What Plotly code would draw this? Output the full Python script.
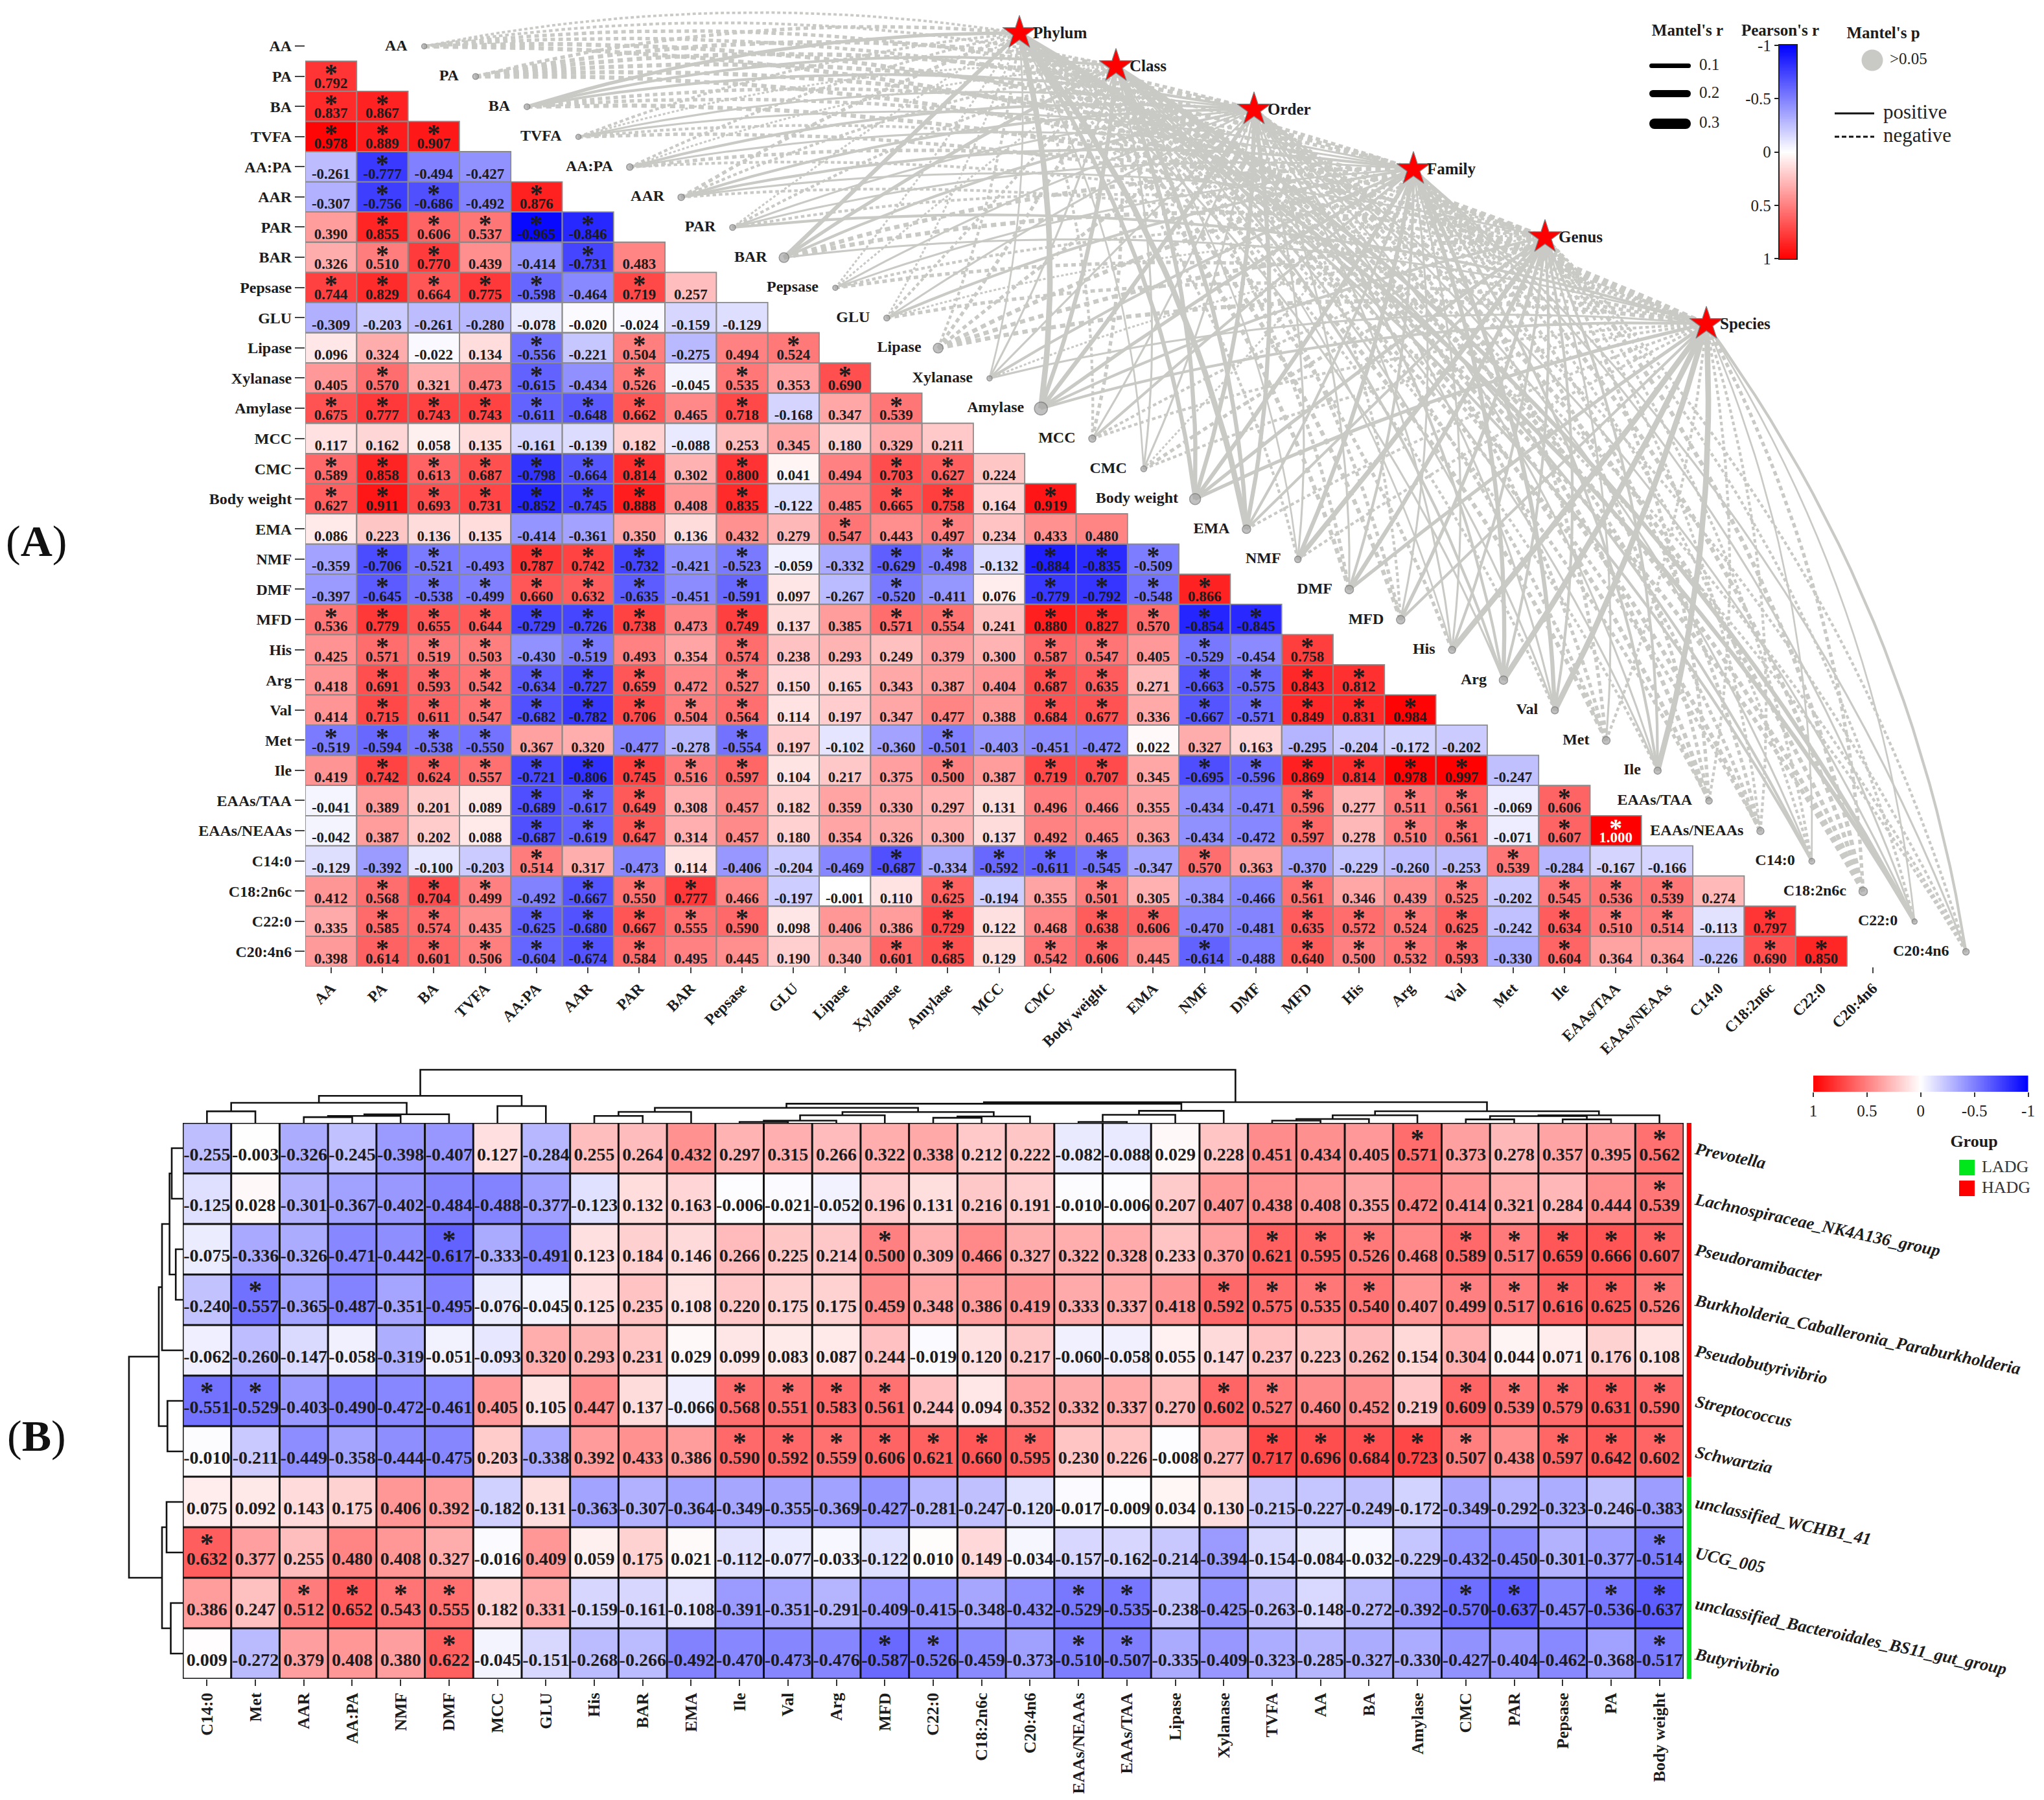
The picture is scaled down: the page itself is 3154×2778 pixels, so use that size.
import plotly.graph_objects as go

W, H = 3154, 2778
SERIF = "Liberation Serif"
GREY = "#c9c9c5"
INK = "#1c1c1c"

# ---------- Panel A: Pearson matrix, lower triangle ----------
a_labels = ["AA","PA","BA","TVFA","AA:PA","AAR","PAR","BAR","Pepsase","GLU","Lipase","Xylanase","Amylase","MCC","CMC",
            "Body weight","EMA","NMF","DMF","MFD","His","Arg","Val","Met","Ile","EAAs/TAA","EAAs/NEAAs","C14:0",
            "C18:2n6c","C22:0","C20:4n6"]
r_PA = [0.792]
r_BA = [0.837,0.867]
r_TVFA = [0.978,0.889,0.907]
r_AAPA = [-0.261,-0.777,-0.494,-0.427]
r_AAR = [-0.307,-0.756,-0.686,-0.492,0.876]
r_PAR = [0.390,0.855,0.606,0.537,-0.965,-0.846]
r_BAR = [0.326,0.510,0.770,0.439,-0.414,-0.731,0.483]
r_Pepsase = [0.744,0.829,0.664,0.775,-0.598,-0.464,0.719,0.257]
r_GLU = [-0.309,-0.203,-0.261,-0.280,-0.078,-0.020,-0.024,-0.159,-0.129]
r_Lipase = [0.096,0.324,-0.022,0.134,-0.556,-0.221,0.504,-0.275,0.494,0.524]
r_Xylanase = [0.405,0.570,0.321,0.473,-0.615,-0.434,0.526,-0.045,0.535,0.353,0.690]
r_Amylase = [0.675,0.777,0.743,0.743,-0.611,-0.648,0.662,0.465,0.718,-0.168,0.347,0.539]
r_MCC = [0.117,0.162,0.058,0.135,-0.161,-0.139,0.182,-0.088,0.253,0.345,0.180,0.329,0.211]
r_CMC = [0.589,0.858,0.613,0.687,-0.798,-0.664,0.814,0.302,0.800,0.041,0.494,0.703,0.627,0.224]
r_BW = [0.627,0.911,0.693,0.731,-0.852,-0.745,0.888,0.408,0.835,-0.122,0.485,0.665,0.758,0.164,0.919]
r_EMA = [0.086,0.223,0.136,0.135,-0.414,-0.361,0.350,0.136,0.432,0.279,0.547,0.443,0.497,0.234,0.433,0.480]
r_NMF = [-0.359,-0.706,-0.521,-0.493,0.787,0.742,-0.732,-0.421,-0.523,-0.059,-0.332,-0.629,-0.498,-0.132,-0.884,-0.835,-0.509]
r_DMF = [-0.397,-0.645,-0.538,-0.499,0.660,0.632,-0.635,-0.451,-0.591,0.097,-0.267,-0.520,-0.411,0.076,-0.779,-0.792,-0.548,0.866]
r_MFD = [0.536,0.779,0.655,0.644,-0.729,-0.726,0.738,0.473,0.749,0.137,0.385,0.571,0.554,0.241,0.880,0.827,0.570,-0.854,-0.845]
r_His = [0.425,0.571,0.519,0.503,-0.430,-0.519,0.493,0.354,0.574,0.238,0.293,0.249,0.379,0.300,0.587,0.547,0.405,-0.529,-0.454,0.758]
r_Arg = [0.418,0.691,0.593,0.542,-0.634,-0.727,0.659,0.472,0.527,0.150,0.165,0.343,0.387,0.404,0.687,0.635,0.271,-0.663,-0.575,0.843,0.812]
r_Val = [0.414,0.715,0.611,0.547,-0.682,-0.782,0.706,0.504,0.564,0.114,0.197,0.347,0.477,0.388,0.684,0.677,0.336,-0.667,-0.571,0.849,0.831,0.984]
r_Met = [-0.519,-0.594,-0.538,-0.550,0.367,0.320,-0.477,-0.278,-0.554,0.197,-0.102,-0.360,-0.501,-0.403,-0.451,-0.472,0.022,0.327,0.163,-0.295,-0.204,-0.172,-0.202]
r_Ile = [0.419,0.742,0.624,0.557,-0.721,-0.806,0.745,0.516,0.597,0.104,0.217,0.375,0.500,0.387,0.719,0.707,0.345,-0.695,-0.596,0.869,0.814,0.978,0.997,-0.247]
r_TAA = [-0.041,0.389,0.201,0.089,-0.689,-0.617,0.649,0.308,0.457,0.182,0.359,0.330,0.297,0.131,0.496,0.466,0.355,-0.434,-0.471,0.596,0.277,0.511,0.561,-0.069,0.606]
r_NEAA = [-0.042,0.387,0.202,0.088,-0.687,-0.619,0.647,0.314,0.457,0.180,0.354,0.326,0.300,0.137,0.492,0.465,0.363,-0.434,-0.472,0.597,0.278,0.510,0.561,-0.071,0.607,1.000]
r_C14 = [-0.129,-0.392,-0.100,-0.203,0.514,0.317,-0.473,0.114,-0.406,-0.204,-0.469,-0.687,-0.334,-0.592,-0.611,-0.545,-0.347,0.570,0.363,-0.370,-0.229,-0.260,-0.253,0.539,-0.284,-0.167,-0.166]
r_C18 = [0.412,0.568,0.704,0.499,-0.492,-0.667,0.550,0.777,0.466,-0.197,-0.001,0.110,0.625,-0.194,0.355,0.501,0.305,-0.384,-0.466,0.561,0.346,0.439,0.525,-0.202,0.545,0.536,0.539,0.274]
r_C22 = [0.335,0.585,0.574,0.435,-0.625,-0.680,0.667,0.555,0.590,0.098,0.406,0.386,0.729,0.122,0.468,0.638,0.606,-0.470,-0.481,0.635,0.572,0.524,0.625,-0.242,0.634,0.510,0.514,-0.113,0.797]
r_C20 = [0.398,0.614,0.601,0.506,-0.604,-0.674,0.584,0.495,0.445,0.190,0.340,0.601,0.685,0.129,0.542,0.606,0.445,-0.614,-0.488,0.640,0.500,0.532,0.593,-0.330,0.604,0.364,0.364,-0.226,0.690,0.850]
a_rows = [[], r_PA, r_BA, r_TVFA, r_AAPA, r_AAR, r_PAR, r_BAR, r_Pepsase, r_GLU, r_Lipase, r_Xylanase, r_Amylase, r_MCC,
          r_CMC, r_BW, r_EMA, r_NMF, r_DMF, r_MFD, r_His, r_Arg, r_Val, r_Met, r_Ile, r_TAA, r_NEAA, r_C14, r_C18, r_C22, r_C20]

# ---------- Mantel links: signed estimate per taxon level (negative = dashed) ----------
taxa = ["Phylum","Class","Order","Family","Genus","Species"]
star_x = [1573,1722,1935,2181,2384,2633]
star_y = [51,102,169,261,366,500]
m_AA = [-.08,-.1,-.15,-.15,-.2,-.2]
m_PA = [-.15,-.2,-.2,-.2,-.2,-.2]
m_BA = [.15,.1,.1,-.15,-.15,-.2]
m_TVFA = [-.1,-.05,.05,.05,-.1,-.15]
m_AAPA = [-.1,-.05,.1,.05,-.15,-.1]
m_AAR = [-.15,-.1,.1,.1,.05,-.1]
m_PAR = [-.05,-.1,.05,.05,-.1,.1]
m_BAR = [.2,.15,.1,-.2,-.2,.05]
m_Pepsase = [-.05,-.05,.05,.05,-.1,-.15]
m_GLU = [-.05,-.1,.05,.1,-.05,-.15]
m_Lipase = [-.1,-.15,-.15,-.2,-.2,-.2]
m_Xylanase = [.03,.05,.05,.1,-.05,.05]
m_Amylase = [.3,.2,.2,.15,.1,.1]
m_MCC = [-.1,-.15,.05,.1,-.1,-.1]
m_CMC = [.03,.05,.05,-.05,-.15,-.1]
m_BW = [.2,.2,.2,.2,.15,.15]
m_EMA = [.3,.2,.2,.1,.1,-.1]
m_NMF = [-.1,.03,.05,.2,.25,-.1]
m_DMF = [-.2,-.15,.05,.1,.2,.15]
m_MFD = [-.2,-.15,-.1,.05,.15,.1]
m_His = [-.15,.03,.05,.05,.1,.3]
m_Arg = [.05,.1,.1,.2,.1,.3]
m_Val = [-.1,.05,.05,.2,.1,.3]
m_Met = [-.2,-.15,-.15,-.15,.05,-.1]
m_Ile = [-.1,.05,.05,.1,.1,.3]
m_TAA = [-.15,-.2,-.2,-.15,-.15,-.1]
m_NEAA = [-.15,-.2,-.15,-.15,-.1,-.1]
m_C14 = [.1,.1,.05,-.1,-.1,.03]
m_C18 = [-.2,-.2,-.2,-.2,-.2,-.15]
m_C22 = [.2,.2,.05,.05,-.1,.03]
m_C20 = [-.1,-.1,-.1,.05,-.1,.1]
mantel = [m_AA,m_PA,m_BA,m_TVFA,m_AAPA,m_AAR,m_PAR,m_BAR,m_Pepsase,m_GLU,m_Lipase,m_Xylanase,m_Amylase,m_MCC,m_CMC,m_BW,
          m_EMA,m_NMF,m_DMF,m_MFD,m_His,m_Arg,m_Val,m_Met,m_Ile,m_TAA,m_NEAA,m_C14,m_C18,m_C22,m_C20]
node_size = [8,9,9,8,10,10,9,15,8,9,15,8,20,11,9,17,13,10,13,13,11,13,11,12,11,10,11,9,13,8,10]

# ---------- Panel B ----------
b_cols = ["C14:0","Met","AAR","AA:PA","NMF","DMF","MCC","GLU","His","BAR","EMA","Ile","Val","Arg","MFD","C22:0","C18:2n6c",
          "C20:4n6","EAAs/NEAAs","EAAs/TAA","Lipase","Xylanase","TVFA","AA","BA","Amylase","CMC","PAR","Pepsase","PA","Body weight"]
b_rows_names = ["Prevotella","Lachnospiraceae_NK4A136_group","Pseudoramibacter","Burkholderia_Caballeronia_Paraburkholderia",
                "Pseudobutyrivibrio","Streptococcus","Schwartzia","unclassified_WCHB1_41","UCG_005",
                "unclassified_Bacteroidales_BS11_gut_group","Butyrivibrio"]
b_Prevotella = [-0.255,-0.003,-0.326,-0.245,-0.398,-0.407,0.127,-0.284,0.255,0.264,0.432,0.297,0.315,0.266,0.322,0.338,0.212,0.222,-0.082,-0.088,0.029,0.228,0.451,0.434,0.405,0.571,0.373,0.278,0.357,0.395,0.562]
b_Lachno = [-0.125,0.028,-0.301,-0.367,-0.402,-0.484,-0.488,-0.377,-0.123,0.132,0.163,-0.006,-0.021,-0.052,0.196,0.131,0.216,0.191,-0.010,-0.006,0.207,0.407,0.438,0.408,0.355,0.472,0.414,0.321,0.284,0.444,0.539]
b_Pseudoram = [-0.075,-0.336,-0.326,-0.471,-0.442,-0.617,-0.333,-0.491,0.123,0.184,0.146,0.266,0.225,0.214,0.500,0.309,0.466,0.327,0.322,0.328,0.233,0.370,0.621,0.595,0.526,0.468,0.589,0.517,0.659,0.666,0.607]
b_Burk = [-0.240,-0.557,-0.365,-0.487,-0.351,-0.495,-0.076,-0.045,0.125,0.235,0.108,0.220,0.175,0.175,0.459,0.348,0.386,0.419,0.333,0.337,0.418,0.592,0.575,0.535,0.540,0.407,0.499,0.517,0.616,0.625,0.526]
b_Pseudobut = [-0.062,-0.260,-0.147,-0.058,-0.319,-0.051,-0.093,0.320,0.293,0.231,0.029,0.099,0.083,0.087,0.244,-0.019,0.120,0.217,-0.060,-0.058,0.055,0.147,0.237,0.223,0.262,0.154,0.304,0.044,0.071,0.176,0.108]
b_Strep = [-0.551,-0.529,-0.403,-0.490,-0.472,-0.461,0.405,0.105,0.447,0.137,-0.066,0.568,0.551,0.583,0.561,0.244,0.094,0.352,0.332,0.337,0.270,0.602,0.527,0.460,0.452,0.219,0.609,0.539,0.579,0.631,0.590]
b_Schw = [-0.010,-0.211,-0.449,-0.358,-0.444,-0.475,0.203,-0.338,0.392,0.433,0.386,0.590,0.592,0.559,0.606,0.621,0.660,0.595,0.230,0.226,-0.008,0.277,0.717,0.696,0.684,0.723,0.507,0.438,0.597,0.642,0.602]
b_WCHB = [0.075,0.092,0.143,0.175,0.406,0.392,-0.182,0.131,-0.363,-0.307,-0.364,-0.349,-0.355,-0.369,-0.427,-0.281,-0.247,-0.120,-0.017,-0.009,0.034,0.130,-0.215,-0.227,-0.249,-0.172,-0.349,-0.292,-0.323,-0.246,-0.383]
b_UCG = [0.632,0.377,0.255,0.480,0.408,0.327,-0.016,0.409,0.059,0.175,0.021,-0.112,-0.077,-0.033,-0.122,0.010,0.149,-0.034,-0.157,-0.162,-0.214,-0.394,-0.154,-0.084,-0.032,-0.229,-0.432,-0.450,-0.301,-0.377,-0.514]
b_BS11 = [0.386,0.247,0.512,0.652,0.543,0.555,0.182,0.331,-0.159,-0.161,-0.108,-0.391,-0.351,-0.291,-0.409,-0.415,-0.348,-0.432,-0.529,-0.535,-0.238,-0.425,-0.263,-0.148,-0.272,-0.392,-0.570,-0.637,-0.457,-0.536,-0.637]
b_Buty = [0.009,-0.272,0.379,0.408,0.380,0.622,-0.045,-0.151,-0.268,-0.266,-0.492,-0.470,-0.473,-0.476,-0.587,-0.526,-0.459,-0.373,-0.510,-0.507,-0.335,-0.409,-0.323,-0.285,-0.327,-0.330,-0.427,-0.404,-0.462,-0.368,-0.517]
b_rows = [b_Prevotella,b_Lachno,b_Pseudoram,b_Burk,b_Pseudobut,b_Strep,b_Schw,b_WCHB,b_UCG,b_BS11,b_Buty]
b_group = [1,1,1,1,1,1,1,0,0,0,0]
SIG = 0.4965  # every |r| at or above this carries an asterisk in the reference

# Dendrograms: (height, left, right); integers are leaves
t_left = (41.8,(31,(17.9,0,1),(13.2,(10.7,(8.9,2,3),4),5)),(26,6,7))
t_mid = (29.6,(23.2,(17,(10.7,8,9),10),(16.8,(11.8,(3.5,(1.5,11,12),13),14),(10,(7.9,15,16),17))),(18.6,(12.5,(1.5,18,19),20),21))
t_right = (18,(11.7,(6,(3.5,22,23),24),25),(11.7,(10.5,(5.4,26,27),(5.4,28,29)),30))
col_tree = (82,t_left,(32,t_mid,t_right))
row_tree = (83,(37,(32,(20.4,(17,0,1),(10.8,2,3)),4),(23.6,5,6)),(32,(25,7,8),(18.5,9,10)))

# ---------- geometry ----------
A_X0, A_CW, A_Y0, A_CH = 471.0, 79.3, 47.7, 46.58
NODE_X0, NODE_Y0 = 654.6, 71.5
B_X0, B_X1, B_Y0, B_Y1 = 282.0, 2598.0, 1733.0, 2591.0
RWB = [[0,"#0000ff"],[0.5,"#ffffff"],[1,"#ff0000"]]

def dx(a,b): return [a/W,b/W]
def dy(a,b): return [1-b/H,1-a/H]

fig = go.Figure()

def text_trace(xs, ys, texts, size, color=INK, pos="middle center", xa="x", ya="y", weight="bold"):
    fig.add_trace(go.Scatter(x=xs,y=ys,text=texts,mode="text",textposition=pos,xaxis=xa,yaxis=ya,hoverinfo="skip",showlegend=False,
                             cliponaxis=False,textfont=dict(family=SERIF,size=size,color=color,weight=weight)))

# Mantel links
def bez(x0,y0,x1,y1):
    L=((x1-x0)**2+(y1-y0)**2)**.5
    ux,uy=(x1-x0)/L,(y1-y0)/L
    px,py=-uy,ux
    d=(px-py)*0.7071          # towards upper right
    cx=(x0+x1)/2+px*d*0.13*L
    cy=(y0+y1)/2+py*d*0.13*L
    xs,ys=[],[]
    for k in range(25):
        t=k/24
        xs.append((1-t)**2*x0+2*t*(1-t)*cx+t*t*x1)
        ys.append((1-t)**2*y0+2*t*(1-t)*cy+t*t*y1)
    return xs,ys

groups={}
node_xs=[NODE_X0+i*A_CW for i in range(31)]
node_ys=[NODE_Y0+i*A_CH for i in range(31)]
for i,row in enumerate(mantel):
    for s,v in enumerate(row):
        w=round(2+22*abs(v),1)
        key=(w,v<0)
        xs,ys=bez(node_xs[i],node_ys[i],star_x[s],star_y[s])
        g=groups.setdefault(key,([],[]))
        g[0].extend(xs+[None]); g[1].extend(ys+[None])
for (w,neg),(xs,ys) in sorted(groups.items(),key=lambda kv:kv[0][0]):
    dash=f"{w*1.3:.1f}px,{w*1.0:.1f}px" if neg else "solid"
    fig.add_trace(go.Scatter(x=xs,y=ys,mode="lines",xaxis="x3",yaxis="y3",hoverinfo="skip",showlegend=False,
                             line=dict(color=GREY,width=w,dash=dash)))
fig.add_trace(go.Scatter(x=node_xs,y=node_ys,mode="markers",xaxis="x3",yaxis="y3",hoverinfo="skip",showlegend=False,
                         marker=dict(size=node_size,color="#a6a6a6",line=dict(color="#6f6f6f",width=1.5))))
fig.add_trace(go.Scatter(x=star_x,y=star_y,mode="markers",xaxis="x3",yaxis="y3",hoverinfo="skip",showlegend=False,
                         marker=dict(symbol="star",size=39,color="#ff0000",line=dict(color="#808080",width=1.2))))
text_trace([x+21 for x in star_x],[y+2 for y in star_y],taxa,25,pos="middle right",xa="x3",ya="y3")
text_trace([x-26 for x in node_xs],node_ys,a_labels,24,pos="middle left",xa="x3",ya="y3")

# Heatmap A
z_a=[r+[None]*(31-len(r)) for r in a_rows]
fig.add_trace(go.Heatmap(z=z_a,x=list(range(31)),y=list(range(31)),colorscale=RWB,zmin=-1,zmax=1,showscale=False,hoverinfo="skip",
                         xaxis="x",yaxis="y"))
gx,gy=[],[]
vx,vy,vt,vc,sx,sy,sc=[],[],[],[],[],[],[]
for i,r in enumerate(a_rows):
    for j,v in enumerate(r):
        gx+=[j-.5,j+.5,j+.5,j-.5,j-.5,None]; gy+=[i-.5,i-.5,i+.5,i+.5,i-.5,None]
        col="#ffffff" if v>=0.9995 else INK
        vx.append(j); vy.append(i+.27); vt.append(f"{v:.3f}"); vc.append(col)
        if abs(v)>=SIG:
            sx.append(j); sy.append(i-.03); sc.append(col)
fig.add_trace(go.Scatter(x=gx,y=gy,mode="lines",line=dict(color="#8a8a8a",width=1.8),xaxis="x",yaxis="y",hoverinfo="skip",showlegend=False))
text_trace(vx,vy,vt,23,color=vc)
text_trace(sx,sy,["*"]*len(sx),40,color=sc)

# Heatmap B
fig.add_trace(go.Heatmap(z=b_rows,x=list(range(31)),y=list(range(11)),colorscale=RWB,zmin=-1,zmax=1,showscale=False,hoverinfo="skip",
                         xaxis="x2",yaxis="y2"))
gx,gy=[],[]
for j in range(32):
    gx+=[j-.5,j-.5,None]; gy+=[-.5,10.5,None]
for i in range(12):
    gx+=[-.5,30.5,None]; gy+=[i-.5,i-.5,None]
fig.add_trace(go.Scatter(x=gx,y=gy,mode="lines",line=dict(color="#111111",width=3),xaxis="x2",yaxis="y2",hoverinfo="skip",showlegend=False))
vx,vy,vt,sx,sy=[],[],[],[],[]
for i,r in enumerate(b_rows):
    for j,v in enumerate(r):
        vx.append(j); vy.append(i+.155); vt.append(f"{v:.3f}")
        if abs(v)>=SIG:
            sx.append(j); sy.append(i-.14)
text_trace(vx,vy,vt,28,xa="x2",ya="y2")
text_trace(sx,sy,["*"]*len(sx),42,xa="x2",ya="y2")

# Dendrograms
def walk(node,out):
    if isinstance(node,int): return float(node),0.0
    h,l,r=node
    lp,lh=walk(l,out); rp,rh=walk(r,out)
    out+= [(lp,lh),(lp,h),(rp,h),(rp,rh),None]
    return (lp+rp)/2,h
seg=[]; walk(col_tree,seg)
fig.add_trace(go.Scatter(x=[p[0] if p else None for p in seg],y=[p[1] if p else None for p in seg],mode="lines",xaxis="x4",yaxis="y4",
                         line=dict(color="#111111",width=2.6),hoverinfo="skip",showlegend=False))
seg=[]; walk(row_tree,seg)
fig.add_trace(go.Scatter(x=[p[1] if p else None for p in seg],y=[p[0] if p else None for p in seg],mode="lines",xaxis="x5",yaxis="y5",
                         line=dict(color="#111111",width=2.6),hoverinfo="skip",showlegend=False))

# Group side bar
fig.add_trace(go.Heatmap(z=[[g] for g in b_group],x=[0],y=list(range(11)),colorscale=[[0,"#00e81c"],[1,"#ff0000"]],zmin=0,zmax=1,
                         showscale=False,hoverinfo="skip",xaxis="x6",yaxis="y6"))

# Colour ramps
ramp=[k/100-1 for k in range(201)]
fig.add_trace(go.Heatmap(z=[[v] for v in ramp],x=[0],y=ramp,colorscale=RWB,zmin=-1,zmax=1,showscale=False,hoverinfo="skip",xaxis="x7",yaxis="y7"))
fig.add_trace(go.Heatmap(z=[ramp],x=ramp,y=[0],colorscale=RWB,zmin=-1,zmax=1,showscale=False,hoverinfo="skip",xaxis="x8",yaxis="y8"))

# Legends (canvas axis)
text_trace([2604,2747,2906],[49,49,53],["Mantel's r","Pearson's r","Mantel's p"],25,xa="x3",ya="y3")
for lab,yy,t in [("0.1",101.5,7),("0.2",144.5,11),("0.3",191,16)]:
    fig.add_trace(go.Scatter(x=[2545+t/2,2609-t/2],y=[yy,yy],mode="lines+markers",xaxis="x3",yaxis="y3",hoverinfo="skip",showlegend=False,
                             line=dict(color="#000000",width=t),marker=dict(size=t,color="#000000")))
    text_trace([2622],[yy],[lab],25,color="#222222",pos="middle right",xa="x3",ya="y3",weight="normal")
fig.add_trace(go.Scatter(x=[2889],y=[93],mode="markers",xaxis="x3",yaxis="y3",hoverinfo="skip",showlegend=False,
                         marker=dict(size=33,color=GREY)))
text_trace([2916],[93],[">0.05"],25,color="#222222",pos="middle right",xa="x3",ya="y3",weight="normal")
fig.add_trace(go.Scatter(x=[2831,2892],y=[175,175],mode="lines",xaxis="x3",yaxis="y3",hoverinfo="skip",showlegend=False,line=dict(color="#111",width=3)))
fig.add_trace(go.Scatter(x=[2831,2892],y=[211,211],mode="lines",xaxis="x3",yaxis="y3",hoverinfo="skip",showlegend=False,line=dict(color="#111",width=3,dash="7px,4px")))
text_trace([2906,2906],[175,211],["positive","negative"],31,color="#222222",pos="middle right",xa="x3",ya="y3",weight="normal")

text_trace([3046],[1763],["Group"],26,xa="x3",ya="y3")
fig.add_trace(go.Scatter(x=[3035,3035],y=[1802,1834],mode="markers",xaxis="x3",yaxis="y3",hoverinfo="skip",showlegend=False,
                         marker=dict(symbol="square",size=24,color=["#00e81c","#ff0000"])))
text_trace([3058,3058],[1802,1834],["LADG","HADG"],26,color="#333333",pos="middle right",xa="x3",ya="y3",weight="normal")

hidden=dict(visible=False,fixedrange=True)
tick_a=dict(family=SERIF,size=24,color=INK,weight="bold")
tick_b=dict(family=SERIF,size=26,color=INK,weight="bold")
tick_n=dict(family=SERIF,size=25,color="#222222")

fig.update_layout(
    template="none",
    width=W,height=H,margin=dict(l=0,r=0,t=0,b=0,pad=0,autoexpand=False),paper_bgcolor="#ffffff",plot_bgcolor="rgba(0,0,0,0)",showlegend=False,
    xaxis=dict(domain=dx(A_X0,A_X0+31*A_CW),range=[-.5,30.5],anchor="y",tickmode="array",tickvals=list(range(31)),ticktext=a_labels,
               tickangle=-45,ticks="outside",ticklen=9,tickwidth=2,tickcolor="#444",tickfont=tick_a,showgrid=False,zeroline=False,showline=False,automargin=False),
    yaxis=dict(domain=dy(A_Y0,A_Y0+31*A_CH),range=[30.5,-.5],anchor="x",tickmode="array",tickvals=list(range(31)),ticktext=a_labels,
               ticks="outside",ticklen=15,tickwidth=2,tickcolor="#444",tickfont=tick_a,showgrid=False,zeroline=False,showline=False,automargin=False),
    xaxis2=dict(domain=dx(B_X0,B_X1),range=[-.5,30.5],anchor="y2",tickmode="array",tickvals=list(range(31)),ticktext=b_cols,
                tickangle=-90,ticks="outside",ticklen=10,tickwidth=2,tickcolor="#333",tickfont=tick_b,showgrid=False,zeroline=False,showline=False,automargin=False),
    yaxis2=dict(domain=dy(B_Y0,B_Y1),range=[10.5,-.5],anchor="x2",side="right",tickmode="array",tickvals=list(range(11)),ticktext=b_rows_names,
                tickangle=12,ticks="outside",ticklen=13,tickcolor="rgba(0,0,0,0)",
                tickfont=dict(family=SERIF,size=26.5,color=INK,weight="bold",style="italic"),showgrid=False,zeroline=False,showline=False,automargin=False),
    xaxis3=dict(domain=[0,1],range=[0,W],anchor="y3",**hidden),
    yaxis3=dict(domain=[0,1],range=[H,0],anchor="x3",**hidden),
    xaxis4=dict(domain=dx(B_X0,B_X1),range=[-.5,30.5],anchor="y4",**hidden),
    yaxis4=dict(domain=dy(1630,B_Y0),range=[0,103],anchor="x4",**hidden),
    xaxis5=dict(domain=dx(180,B_X0),range=[102,0],anchor="y5",**hidden),
    yaxis5=dict(domain=dy(B_Y0,B_Y1),range=[10.5,-.5],anchor="x5",**hidden),
    xaxis6=dict(domain=dx(2602.5,2610),range=[-.5,.5],anchor="y6",**hidden),
    yaxis6=dict(domain=dy(B_Y0,B_Y1),range=[10.5,-.5],anchor="x6",**hidden),
    xaxis7=dict(domain=dx(2745.5,2772),range=[-.5,.5],anchor="y7",showticklabels=False,ticks="",showgrid=False,zeroline=False,
                showline=True,mirror=True,linecolor="#222",linewidth=1.5,automargin=False),
    yaxis7=dict(domain=dy(70,399),range=[1,-1],anchor="x7",tickmode="array",tickvals=[-1,-.5,0,.5,1],ticktext=["-1","-0.5","0","0.5","1"],
                ticks="outside",ticklen=6,tickwidth=1.5,tickcolor="#222",tickfont=tick_n,showgrid=False,zeroline=False,
                showline=True,mirror=True,linecolor="#222",linewidth=1.5,automargin=False),
    xaxis8=dict(domain=dx(2798,3129.5),range=[1,-1],anchor="y8",tickmode="array",tickvals=[1,.5,0,-.5,-1],ticktext=["1","0.5","0","-0.5","-1"],
                ticks="outside",ticklen=7,tickwidth=1.5,tickcolor="#333",tickfont=tick_n,showgrid=False,zeroline=False,automargin=False),
    yaxis8=dict(domain=dy(1660,1685),range=[-.5,.5],anchor="x8",**hidden),
    annotations=[
        dict(text="(<b>A</b>)",x=56/W,y=1-835/H,xref="paper",yref="paper",yanchor="middle",xanchor="center",showarrow=False,font=dict(family=SERIF,size=68,color="#111")),
        dict(text="(<b>B</b>)",x=56/W,y=1-2216/H,xref="paper",yref="paper",yanchor="middle",xanchor="center",showarrow=False,font=dict(family=SERIF,size=68,color="#111")),
    ],
)
fig.write_html("out.html",config=dict(responsive=False,displayModeBar=False),post_script="document.body.style.margin='0';")
